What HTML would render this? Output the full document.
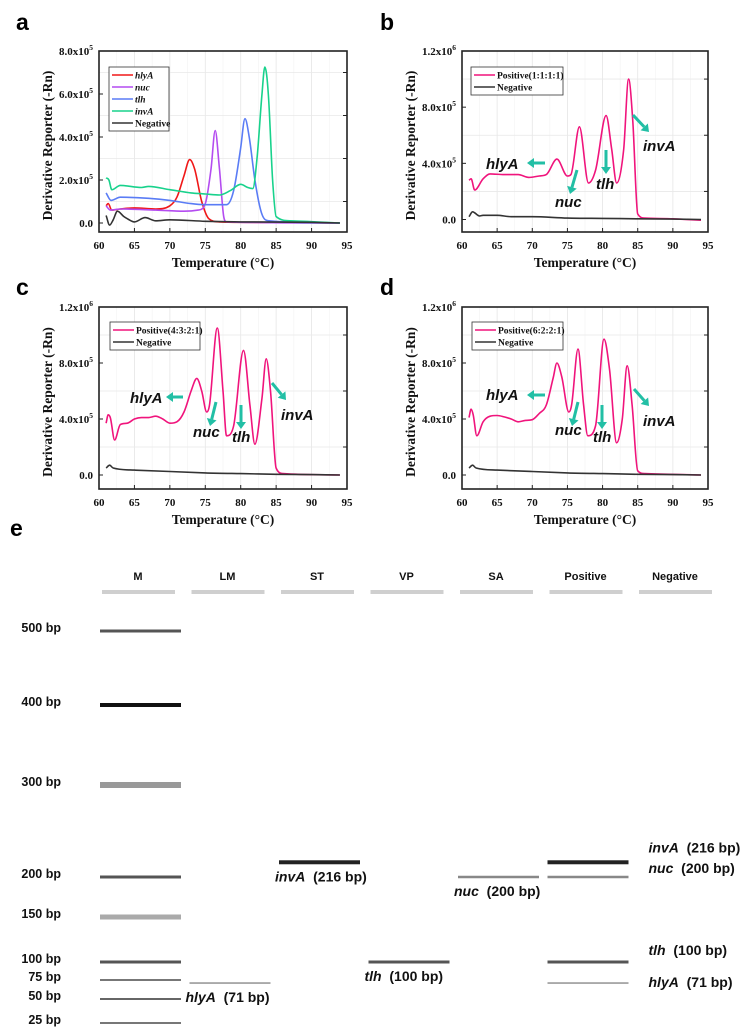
<!DOCTYPE html>
<html><head><meta charset="utf-8"><style>
body{margin:0;background:#fff;}
svg{display:block;}
.pl{font-family:"Liberation Sans",sans-serif;font-weight:bold;font-size:23px;}
.tk{font-family:"Liberation Serif",serif;font-weight:bold;font-size:11px;fill:#111;}
.ax{font-family:"Liberation Serif",serif;font-weight:bold;font-size:13.5px;fill:#111;}
.lg{font-family:"Liberation Serif",serif;font-weight:bold;font-size:9.5px;fill:#111;}
.an{font-family:"Liberation Sans",sans-serif;font-weight:bold;font-style:italic;font-size:15px;fill:#111;}
.gl{font-family:"Liberation Sans",sans-serif;font-weight:bold;font-size:12.5px;fill:#111;}
.bl{font-family:"Liberation Sans",sans-serif;font-weight:bold;font-size:14px;fill:#111;}
.ln{font-family:"Liberation Sans",sans-serif;font-weight:bold;font-size:11px;fill:#111;}
</style></head><body>
<svg id="fig" width="748" height="1034" viewBox="0 0 748 1034" xmlns="http://www.w3.org/2000/svg"></svg>
<script>
// ---------- data (values in units of 1e5) ----------
const aHlyAT=[61,61.3,61.8,63,65,68,70,71,72,72.8,73.5,74.5,75.5,77,80,94];
const aHlyAV=[0.8,0.9,0.6,0.65,0.7,0.65,0.8,1.2,2.2,2.95,2.5,1.0,0.2,0.05,0.03,0];
const aNucT=[61,61.6,63,68,72,74,75,75.8,76.4,77,77.6,78,94];
const aNucV=[0.8,0.6,0.65,0.6,0.55,0.6,0.9,2.5,4.3,2.5,0.3,0.05,0];
const aTlhT=[61,61.7,63,67,70,73,75,78,79,80,80.6,81.2,82,83,84,94];
const aTlhV=[1.4,1.05,1.2,1.15,1.05,0.9,0.85,0.85,1.5,3.5,4.85,4.0,2.0,0.4,0.1,0];
const aInvAT=[61,61.4,61.8,63,66,67,70,73,75,77,78.5,80,81,81.7,82.3,83,83.4,83.9,84.5,85,87,94];
const aInvAV=[2.1,2.0,1.55,1.75,1.65,1.7,1.55,1.4,1.35,1.3,1.5,1.8,1.65,1.6,3.0,6.0,7.25,6.0,2.0,0.3,0.1,0];
const aNegT=[61,61.5,62,62.6,63.5,64,65,66.5,68,70,75,80,90,94];
const aNegV=[0.35,-0.1,0.15,0.55,0.3,0.2,0.05,0.25,0.1,0.15,0.08,0.05,0.03,0];
const bPosT=[61,61.3,61.8,63,64,66,68,69.5,71,72,73.5,75,75.5,76.7,78,79,80.5,81.3,82,83,83.7,84.3,85,86,90,94];
const bPosV=[2.8,2.9,2.1,2.9,3.25,3.2,3.2,3.0,3.1,3.2,4.3,3.1,3.2,6.6,2.6,3.5,7.4,5.0,2.6,5.0,10.0,7.0,0.4,0.1,0.05,-0.05];
const bNegT=[61,61.5,62.5,63,65,67,70,75,80,85,90,94];
const bNegV=[0.2,0.55,0.25,0.3,0.3,0.2,0.2,0.1,0.08,0.05,0.03,0];
const cPosT=[61,61.3,61.6,62.2,63,64,65,66,67,68,69,70,71,72,73,73.8,74.5,75.2,75.6,76.7,77.5,78,79,80.4,81.3,82,83,83.6,84.2,85,86,94];
const cPosV=[3.7,4.3,4.1,2.5,3.6,3.7,4.0,4.1,4.1,4.2,4.0,3.7,3.8,4.5,6.0,6.9,6.0,4.5,5.0,10.5,6.0,2.8,3.5,8.9,5.0,2.2,5.5,8.3,6.0,0.5,0.1,0];
const cNegT=[61,61.5,62,65,70,75,80,85,90,94];
const cNegV=[0.5,0.7,0.5,0.35,0.25,0.15,0.1,0.05,0.03,0];
const dPosT=[61,61.3,61.6,62.1,63,64,65,66,67,68,69,70,71,72,73,73.5,74.2,75.2,75.6,76.5,77.3,77.9,79,80.2,81,82,82.8,83.5,84.2,85,86,94];
const dPosV=[4.1,4.7,4.3,2.8,3.8,4.2,4.25,4.15,4.0,3.8,3.9,3.95,4.4,5.0,7.0,8.0,7.0,4.5,5.0,9.0,5.0,2.8,3.5,9.7,7.5,2.3,4.0,7.8,5.0,0.3,0.1,0];
const dNegT=[61,61.5,62,65,70,75,80,85,90,94];
const dNegV=[0.5,0.7,0.5,0.35,0.25,0.15,0.1,0.05,0.03,0];
const xTicks=[60,65,70,75,80,85,90,95];
const aYTicks=[0,2,4,6,8];
const aYLabels=[["0.0",""],["2.0x10","5"],["4.0x10","5"],["6.0x10","5"],["8.0x10","5"]];
const bYTicks=[0,4,8,12];
const bYLabels=[["0.0",""],["4.0x10","5"],["8.0x10","5"],["1.2x10","6"]];
// gel data
const laneNames=["M","LM","ST","VP","SA","Positive","Negative"];
const markerSizes=[500,400,300,200,150,100,75,50,25];
const bandLanes=[2,1,3,4,5,5,5,5];
const bandSizes=[216,71,100,200,216,200,100,71];
const bandGenes=["invA","hlyA","tlh","nuc","invA","nuc","tlh","hlyA"];

const NS="http://www.w3.org/2000/svg";
const svg=document.getElementById('fig');
function el(tag,attrs,parent,text){const e=document.createElementNS(NS,tag);for(const k in attrs)e.setAttribute(k,attrs[k]);if(text!==undefined)e.textContent=text;(parent||svg).appendChild(e);return e;}
// monotone cubic (Fritsch-Carlson) path, no overshoot
function smoothPath(p){const n=p.length;const d=[],m=[];for(let i=0;i<n-1;i++)d.push((p[i+1][1]-p[i][1])/(p[i+1][0]-p[i][0]));
  m[0]=d[0];m[n-1]=d[n-2];for(let i=1;i<n-1;i++){m[i]=(d[i-1]*d[i]<=0)?0:(d[i-1]+d[i])/2;}
  for(let i=0;i<n-1;i++){if(d[i]===0){m[i]=0;m[i+1]=0;continue;}const a=m[i]/d[i],b=m[i+1]/d[i],s=a*a+b*b;if(s>9){const t=3/Math.sqrt(s);m[i]=t*a*d[i];m[i+1]=t*b*d[i];}}
  let s="M"+p[0][0].toFixed(1)+","+p[0][1].toFixed(1);
  for(let i=0;i<n-1;i++){const h=(p[i+1][0]-p[i][0])/3;s+="C"+(p[i][0]+h).toFixed(1)+","+(p[i][1]+m[i]*h).toFixed(1)+" "+(p[i+1][0]-h).toFixed(1)+","+(p[i+1][1]-m[i+1]*h).toFixed(1)+" "+p[i+1][0].toFixed(1)+","+p[i+1][1].toFixed(1);}
  return s;}

function panel(cfg){
  const g=el('g',{});
  
  
  const xs=t=>cfg.x0+(t-60)/35*(cfg.x1-cfg.x0);
  const ys=v=>cfg.yb-(v-cfg.ymin)/(cfg.ymax-cfg.ymin)*(cfg.yb-cfg.yt);
  const pl=el('text',{x:cfg.lx,y:cfg.ly,class:'pl'},g,cfg.id);
  
  xTicks.forEach(t=>{if(t>60&&t<95)el('line',{x1:xs(t),x2:xs(t),y1:cfg.yt,y2:cfg.yb,stroke:'#e6e6e6','stroke-width':0.8},g);
    const h=xs(t+2.5);if(t<95)el('line',{x1:h,x2:h,y1:cfg.yt,y2:cfg.yb,stroke:'#f2f2f2','stroke-width':0.6},g);});
  cfg.yt2.forEach(v=>el('line',{x1:cfg.x0,x2:cfg.x1,y1:ys(v),y2:ys(v),stroke:'#e8e8e8','stroke-width':0.8},g));
  cfg.series.forEach(s=>{const pts=s.t.map((t,i)=>[xs(t),ys(s.v[i])]);const p=el('path',{d:smoothPath(pts),fill:'none',stroke:s.c,'stroke-width':1.6,'stroke-linejoin':'round'},g);
    });
  el('rect',{x:cfg.x0,y:cfg.yt,width:cfg.x1-cfg.x0,height:cfg.yb-cfg.yt,fill:'none',stroke:'#222','stroke-width':1.6},g);
  const xa=el('g',{},g);
  xTicks.forEach(t=>{el('line',{x1:xs(t),x2:xs(t),y1:cfg.yb,y2:cfg.yb-4,stroke:'#222','stroke-width':1},xa);el('text',{x:xs(t),y:cfg.yb+17,class:'tk','text-anchor':'middle'},xa,t);});
  const ya=el('g',{},g);
  cfg.yticks.forEach((v,i)=>{el('line',{x1:cfg.x0,x2:cfg.x0+4,y1:ys(v),y2:ys(v),stroke:'#222'},ya);
    const tx=el('text',{x:cfg.x0-6,y:ys(v)+4,class:'tk','text-anchor':'end'},ya);
    const lab=cfg.ylabels[i];el('tspan',{},tx,lab[0]);if(lab[1])el('tspan',{'font-size':'7.5px',dy:-5},tx,lab[1]);});
  cfg.yt2.forEach(v=>el('line',{x1:cfg.x1,x2:cfg.x1-4,y1:ys(v),y2:ys(v),stroke:'#222'},ya));
  const xt=el('text',{x:(cfg.x0+cfg.x1)/2,y:cfg.yb+35,class:'ax','text-anchor':'middle'},g,'Temperature (°C)');
  
  const cy=(cfg.yt+cfg.yb)/2+4;
  const yt=el('text',{x:cfg.x0-47,y:cy,class:'ax','text-anchor':'middle',transform:'rotate(-90 '+(cfg.x0-47)+' '+cy+')'},g,'Derivative Reporter (-Rn)');
  
  const lg=el('g',{},g);
  el('rect',{x:cfg.lgx,y:cfg.lgy,width:cfg.lgw,height:cfg.series.length*12+4,fill:'#fff',stroke:'#333','stroke-width':0.8},lg);
  cfg.series.forEach((s,i)=>{const yy=cfg.lgy+8+i*12;const e=el('g',{},lg);
    el('line',{x1:cfg.lgx+3,x2:cfg.lgx+24,y1:yy,y2:yy,stroke:s.c,'stroke-width':1.6},e);
    el('text',{x:cfg.lgx+26,y:yy+3.5,class:'lg','font-style':s.it?'italic':'normal'},e,s.n);});
  (cfg.ann||[]).forEach(a=>{const ag=el('g',{},g);
    el('text',{x:a.tx,y:a.ty,class:'an'},ag,a.n);
    const dx=a.x2-a.x1,dy=a.y2-a.y1,L=Math.hypot(dx,dy),ux=dx/L,uy=dy/L;
    const bx=a.x2-ux*7,by=a.y2-uy*7;
    el('line',{x1:a.x1,y1:a.y1,x2:bx,y2:by,stroke:'#22bfa5','stroke-width':3},ag);
    el('polygon',{points:[a.x2,a.y2,bx-uy*5,by+ux*5,bx+uy*5,by-ux*5].join(','),fill:'#22bfa5'},ag);});
}
const red='#f01818',pur='#b44cf0',blu='#5a7cf5',grn='#18d28c',blk='#333',pink='#f0147c';
panel({id:'a',lx:16,ly:30,x0:99,x1:347,yt:51,yb:232,ymin:-0.419,ymax:8,yticks:aYTicks,ylabels:aYLabels,yt2:[1,3,5,7],lgx:109,lgy:67,lgw:60,
  series:[{n:'hlyA',t:aHlyAT,v:aHlyAV,c:red,it:1},{n:'nuc',t:aNucT,v:aNucV,c:pur,it:1},{n:'tlh',t:aTlhT,v:aTlhV,c:blu,it:1},{n:'invA',t:aInvAT,v:aInvAV,c:grn,it:1},{n:'Negative',t:aNegT,v:aNegV,c:blk}]});
panel({id:'b',lx:380,ly:30,x0:462,x1:708,yt:51,yb:232,ymin:-0.89,ymax:12,yticks:bYTicks,ylabels:bYLabels,yt2:[2,6,10],lgx:471,lgy:67,lgw:92,
  series:[{n:'Positive(1:1:1:1)',t:bPosT,v:bPosV,c:pink},{n:'Negative',t:bNegT,v:bNegV,c:blk}],
  ann:[{n:'hlyA',tx:486,ty:169,x1:545,y1:163,x2:527,y2:163},{n:'nuc',tx:555,ty:207,x1:577,y1:170,x2:570,y2:194},{n:'tlh',tx:596,ty:189,x1:606,y1:150,x2:606,y2:174},{n:'invA',tx:643,ty:151,x1:633,y1:115,x2:649,y2:132}]});
panel({id:'c',lx:16,ly:295,x0:99,x1:347,yt:307,yb:489,ymin:-1.0,ymax:12,yticks:bYTicks,ylabels:bYLabels,yt2:[2,6,10],lgx:110,lgy:322,lgw:90,
  series:[{n:'Positive(4:3:2:1)',t:cPosT,v:cPosV,c:pink},{n:'Negative',t:cNegT,v:cNegV,c:blk}],
  ann:[{n:'hlyA',tx:130,ty:403,x1:183,y1:397,x2:166,y2:397},{n:'nuc',tx:193,ty:437,x1:216,y1:402,x2:210,y2:426},{n:'tlh',tx:232,ty:442,x1:241,y1:405,x2:241,y2:429},{n:'invA',tx:281,ty:420,x1:272,y1:383,x2:286,y2:400}]});
panel({id:'d',lx:380,ly:295,x0:462,x1:708,yt:307,yb:489,ymin:-1.0,ymax:12,yticks:bYTicks,ylabels:bYLabels,yt2:[2,6,10],lgx:472,lgy:322,lgw:91,
  series:[{n:'Positive(6:2:2:1)',t:dPosT,v:dPosV,c:pink},{n:'Negative',t:dNegT,v:dNegV,c:blk}],
  ann:[{n:'hlyA',tx:486,ty:400,x1:545,y1:395,x2:527,y2:395},{n:'nuc',tx:555,ty:435,x1:578,y1:402,x2:572,y2:426},{n:'tlh',tx:593,ty:442,x1:602,y1:405,x2:602,y2:429},{n:'invA',tx:643,ty:426,x1:634,y1:389,x2:649,y2:406}]});

// ---------- gel ----------
const gel=el('g',{});


const el_e=el('text',{x:10,y:536,class:'pl'},gel,'e');


const anchorBp=[500,400,300,200,150,100,75,50,25];
const anchorY=[631,705,785,877,917,962,980,999,1023];
function bpY(bp){for(let i=0;i<anchorBp.length-1;i++){if(bp<=anchorBp[i]&&bp>=anchorBp[i+1]){const f=(anchorBp[i]-bp)/(anchorBp[i]-anchorBp[i+1]);return anchorY[i]+f*(anchorY[i+1]-anchorY[i]);}}return anchorY[anchorY.length-1];}
const laneX=i=>102+i*89.5;
laneNames.forEach((n,i)=>{const lg=el('g',{},gel);
  el('text',{x:laneX(i)+36,y:580,class:'ln','text-anchor':'middle'},lg,n);
  el('rect',{x:laneX(i),y:590,width:73,height:4,fill:'#cfcfcf'},lg);});
const mStyle={500:['#555',3],400:['#111',4],300:['#999',6],200:['#555',3],150:['#aaa',5],100:['#555',3],75:['#777',2],50:['#666',2],25:['#777',2]};
markerSizes.forEach(bp=>{const y=bpY(bp);const b=el('rect',{x:100,y:y-mStyle[bp][1]/2,width:81,height:mStyle[bp][1],fill:mStyle[bp][0]},gel);
  
  const t=el('text',{x:61,y:y+1,class:'gl','text-anchor':'end'},gel,bp+' bp');
  });
const bStyle={invA:['#222',4],hlyA:['#999',1.6],tlh:['#555',3],nuc:['#888',2.5]};
bandSizes.forEach((bp,i)=>{const ln=bandLanes[i],g=bandGenes[i],y=bpY(bp),x=laneX(ln)-2;
  const b=el('rect',{x:x,y:y-bStyle[g][1]/2,width:81,height:bStyle[g][1],fill:bStyle[g][0]},gel);
  
  let tx,ty;if(ln===5){tx=x+101;ty=y+(g==='invA'?-10:g==='nuc'?-4:g==='tlh'?-7:4);}else{tx=x-4;ty=y+19;}
  const t=el('text',{x:tx,y:ty,class:'bl'},gel);
  
  el('tspan',{'font-style':'italic'},t,g);el('tspan',{},t,'\u00a0 ('+bp+' bp)');});
</script>
</body></html>
